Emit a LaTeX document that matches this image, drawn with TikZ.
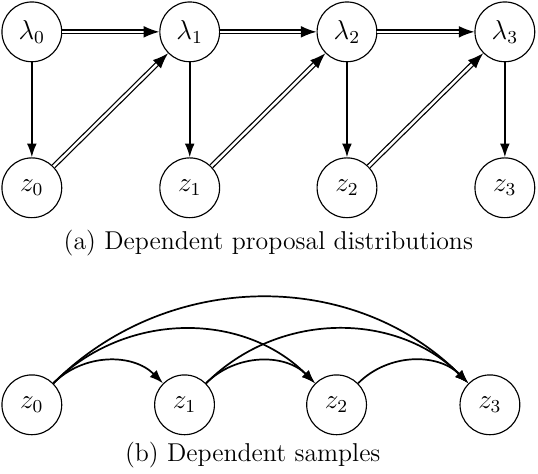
\documentclass[tikz,border=0pt]{standalone}
\usetikzlibrary{arrows.meta}

\begin{document}
\begin{tikzpicture}[
        var/.style={draw, circle, line width=0.5pt, minimum size=0.92cm, inner sep=0pt, font=\large},
        dep/.style={line width=0.75pt, -{Latex[length=2.1mm, width=1.5mm]}},
        ddep/.style={line width=0.55pt, double distance=1.1pt, -{Latex[length=2.4mm, width=1.8mm]}},
        caption/.style={font=\fontsize{11.3}{13.5}\selectfont}
    ]
            \useasboundingbox (0, 0) rectangle (8.28, -7.29);

            % (a) proposal chain
            \node[var] (lam0) at (0.49, -0.49) {$\lambda_0$};
            \node[var] (lam1) at (2.92, -0.49) {$\lambda_1$};
            \node[var] (lam2) at (5.34, -0.49) {$\lambda_2$};
            \node[var] (lam3) at (7.77, -0.49) {$\lambda_3$};
            \node[var] (za0) at (0.49, -2.89) {$z_0$};
            \node[var] (za1) at (2.92, -2.89) {$z_1$};
            \node[var] (za2) at (5.34, -2.89) {$z_2$};
            \node[var] (za3) at (7.77, -2.89) {$z_3$};
            \node[caption] (capa) at (4.13, -3.74) {(a) Dependent proposal distributions};

            \draw[dep] (lam0) -- (za0);
            \draw[dep] (lam1) -- (za1);
            \draw[dep] (lam2) -- (za2);
            \draw[dep] (lam3) -- (za3);
            \draw[ddep] (lam0) -- (lam1);
            \draw[ddep] (lam1) -- (lam2);
            \draw[ddep] (lam2) -- (lam3);
            \draw[ddep] (za0) -- (lam1);
            \draw[ddep] (za1) -- (lam2);
            \draw[ddep] (za2) -- (lam3);

            % (b) samples
            \node[var] (zb0) at (0.49, -6.23) {$z_0$};
            \node[var] (zb1) at (2.84, -6.23) {$z_1$};
            \node[var] (zb2) at (5.18, -6.23) {$z_2$};
            \node[var] (zb3) at (7.54, -6.23) {$z_3$};
            \node[caption] (capb) at (3.89, -7.0) {(b) Dependent samples};

            \draw[dep] (zb0) to[bend left=45] (zb1);
            \draw[dep] (zb0) to[bend left=45] (zb2);
            \draw[dep] (zb0) to[bend left=45] (zb3);
            \draw[dep] (zb1) to[bend left=45] (zb2);
            \draw[dep] (zb1) to[bend left=45] (zb3);
            \draw[dep] (zb2) to[bend left=45] (zb3);
        \end{tikzpicture}
\end{document}
